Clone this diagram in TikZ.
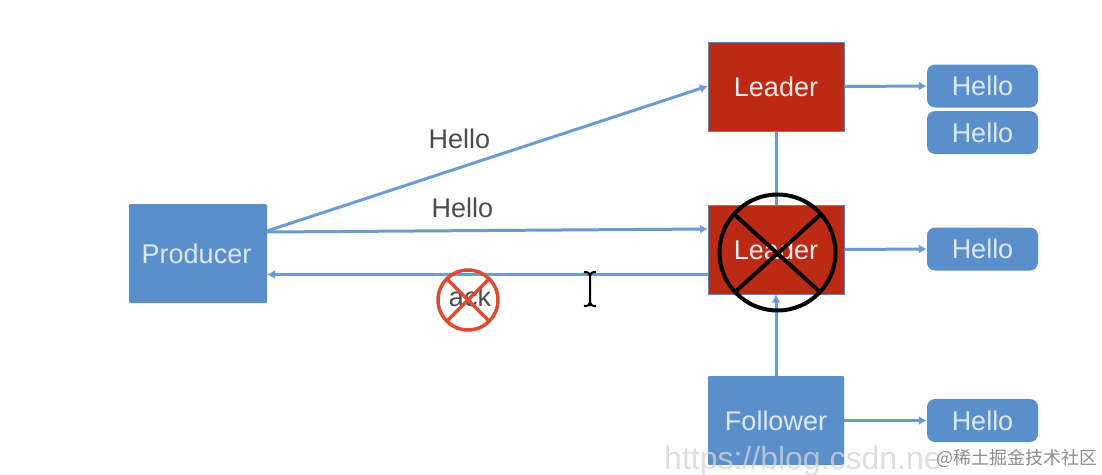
\documentclass[tikz,border=0pt]{standalone}
\usepackage{fontspec}
\setmainfont{Liberation Sans}
\newfontfamily\cjkfont{Noto Sans CJK SC}
\usetikzlibrary{arrows.meta}
\definecolor{boxblue}{HTML}{5B8FCB}
\definecolor{linkblue}{HTML}{6C9BD2}
\definecolor{leadred}{HTML}{BC2A15}
\definecolor{boxedge}{HTML}{6F7FA8}
\definecolor{txtwhite}{HTML}{DCE9F6}
\definecolor{ackred}{HTML}{DE4A33}
\definecolor{wmark}{HTML}{D2D4D6}
\tikzset{
  x=1pt,y=-1pt,
  lbl/.style={font=\fontsize{27}{31}\selectfont},
  base/.style={lbl,inner sep=0pt,minimum width=#1,text=txtwhite,fill=boxblue},
  square/.style={base=136pt,minimum height=89pt},
  redbox/.style={square,fill=leadred,draw=boxedge,line width=1pt,text=red!8!white},
  bluebox/.style={square,rounded corners=1pt},
  msg/.style={base=111pt,minimum height=43pt,rounded corners=8pt},
  link/.style={draw=linkblue,line width=3pt},
  arrow/.style={link,-{Latex[length=8pt,width=9pt]}},
  blacktext/.style={lbl,text=black!70,inner sep=0pt},
  stopmark/.style={draw=black,line width=4pt,circle,minimum size=116pt,inner sep=0pt},
  stopack/.style={draw=ackred,line width=3.5pt,circle,minimum size=60pt,inner sep=0pt},
}
\begin{document}
\begin{tikzpicture}
\useasboundingbox[fill=white] (0,0) rectangle (1102,474);
% boxes
\node[bluebox,minimum width=138pt,minimum height=99pt] (prod) at (198,253.5) {};
\node[lbl,text=txtwhite] (prodt) at (196.5,254) {Producer};
\node[redbox] (l1) at (776,86.5) {Leader};
\node[redbox] (l2) at (776,249.5) {Leader};
\node[bluebox] (fol) at (776,420.5) {Follower};
\node[msg] (h1) at (982.5,86) {Hello};
\node[msg] (h2) at (982.5,132.5) {Hello};
\node[msg] (h3) at (982.5,249) {Hello};
\node[msg] (h4) at (982.5,420.5) {Hello};
% connector anchors
\coordinate (pout1) at (267,231);
\coordinate (pout2) at (267,232);
\coordinate (pin) at (267,274.5);
\coordinate (l1in) at (708,86);
\coordinate (l2in) at (708,229);
\coordinate (l2out) at (708,274.5);
% connectors
\draw[arrow] (pout1) -- (l1in);
\draw[arrow] (pout2) -- (l2in);
\draw[arrow] (l2out) -- (pin);
\draw[link] (l2.north) -- (l1.south);
\draw[arrow] (fol.north) -- (l2.south);
\draw[arrow] (l1.east) -- (h1.west);
\draw[arrow] (l2.east) -- (h3.west);
\draw[arrow] (fol.east) -- (h4.west);
% labels
\node[blacktext] (t1) at (459.5,139) {Hello};
\node[blacktext] (t2) at (462.5,208) {Hello};
\node[blacktext] (ack) at (470,297) {ack};
% crossed-out marks
\node[stopmark] (stopl) at (777.5,252.5) {};
\draw[black,line width=4pt] (735,215) -- (820,292) (820,215) -- (735,292);
\node[stopack] (stopa) at (468,300) {};
\draw[ackred,line width=3.5pt] (447,279) -- (489,321) (489,279) -- (447,321);
% text cursor
\draw[black,line width=2pt] (590,273) -- (590,306) (584,272) .. controls (588,272) and (590,273) .. (590,276) .. controls (590,273) and (592,272) .. (596,272) (584,306) .. controls (588,306) and (590,305) .. (590,302) .. controls (590,305) and (592,306) .. (596,306);
% watermarks
\node[lbl,text=wmark,anchor=west,inner sep=0pt,font=\fontsize{32}{36}\selectfont,opacity=.75] (wm) at (664,461) {https://blog.csdn.ne};
\node[anchor=west,inner sep=0pt,text=black!45,font=\fontsize{18}{21}\cjkfont] (wm2) at (936,458) {@稀土掘金技术社区};
\end{tikzpicture}
\end{document}
